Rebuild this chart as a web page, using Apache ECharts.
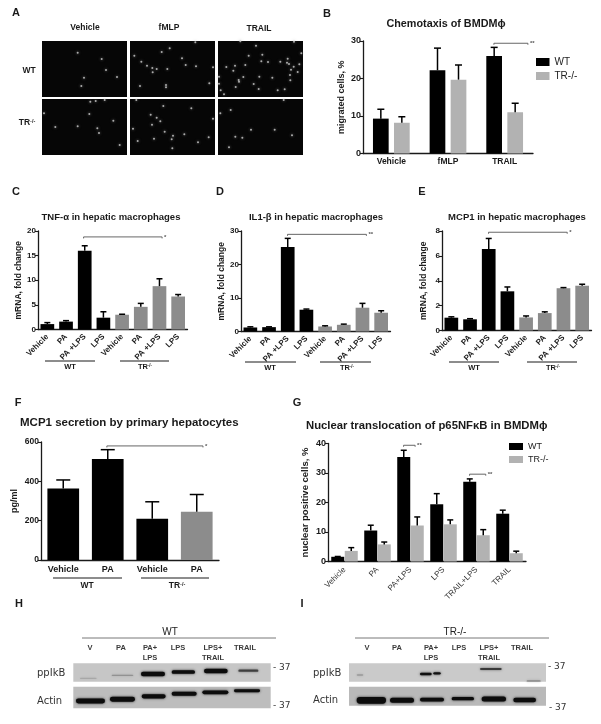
<!DOCTYPE html>
<html><head><meta charset="utf-8">
<style>html,body{margin:0;padding:0;background:#fff}#c{width:601px;height:724px}</style>
<script src="https://cdn.jsdelivr.net/npm/echarts@6/dist/echarts.min.js"></script>
</head><body><div id="c"></div>
<script>
// ---------- data ----------
const dotsWTVehicle=[[107,35],[179,54],[192,87],[126,110],[225,108],[118,135]];
const dotsWTfMLP=[[196,4],[119,22],[95,33],[13,44],[156,52],[34,62],[51,74],[67,81],[80,84],[68,94],[112,84],[167,72],[198,76],[249,79],[30,135],[108,132],[108,139],[238,127]];
const dotsWTTRAIL=[[67,1],[228,2],[114,14],[250,37],[92,44],[133,41],[209,53],[130,61],[150,63],[187,62],[207,65],[227,77],[244,70],[25,78],[51,74],[82,72],[46,89],[219,86],[239,93],[213,69],[3,107],[76,108],[62,117],[63,122],[124,107],[163,110],[216,102],[217,118],[107,129],[3,128],[53,138],[122,144],[8,148],[18,160],[179,148],[200,145]];
const dotsTRVehicle=[[142,45],[40,84],[107,82],[166,88],[171,102],[214,65],[233,138],[188,3],[145,8],[6,43],[161,6]];
const dotsTRfMLP=[[100,21],[184,28],[62,47],[80,56],[91,67],[66,77],[9,89],[104,98],[72,119],[23,126],[129,110],[163,106],[125,121],[236,115],[204,130],[127,148],[249,59],[19,3]];
const dotsTRTRAIL=[[38,33],[7,43],[99,92],[170,92],[222,109],[52,113],[73,116],[33,145],[197,3]];

const catB=['Vehicle','fMLP','TRAIL'];
const wtB=[9.3,22.2,26];
const wtBTop=[11.8,28.1,28.3];
const koB=[8.2,19.7,11];
const koBTop=[9.8,23.6,13.4];

const catMac=['Vehicle','PA','PA +LPS','LPS','Vehicle','PA','PA +LPS','LPS'];
const tnf=[1.1,1.6,16,2.4,3,4.6,8.8,6.7];
const tnfTop=[1.4,1.8,17,3.6,3.1,5.3,10.3,7.1];
const il1=[1.2,1.3,25.2,6.5,1.5,2,7.1,5.6];
const il1Top=[1.4,1.4,27.8,6.7,1.7,2.2,8.4,6.2];
const mcp=[1.03,0.9,6.55,3.15,1.05,1.4,3.4,3.6];
const mcpTop=[1.1,0.95,7.4,3.5,1.17,1.5,3.45,3.72];

const catF=['Vehicle','PA','Vehicle','PA'];
const secF=[363,514,210,245];
const secFTop=[407,561,296,333];

const catG=['Vehicle','PA','PA+LPS','LPS','TRAIL+LPS','TRAIL'];
const wtG=[1.6,10.5,35.4,19.4,27,16.2];
const wtGTop=[1.7,12.3,37.7,23,28,17.4];
const koG=[3.6,5.8,12.2,12.6,8.9,2.8];
const koGTop=[4.7,6.6,15.1,14.1,10.8,3.5];

// blot bands: start, end, row, thickness, strength
const blotHTop=[[240,290,250,4,0.12],[335,400,241,4,0.22],[423,495,237,13,1],[515,585,231,11,1],[612,683,228,14,1],[715,775,227,7,0.6]];
const blotHAct=[[228,315,318,15,1],[330,405,313,15,1],[425,497,304,13,1],[515,590,296,12,1],[607,685,292,11,1],[702,780,287,9,1]];
const blotITop=[[170,190,240,6,0.15],[360,395,237,7,0.95],[400,422,235,7,0.95],[540,605,222,6,0.65],[680,722,258,3,0.4]];
const blotIAct=[[170,258,316,20,1],[270,342,316,15,1],[360,432,314,11,1],[455,522,311,10,1],[545,618,312,15,1],[640,708,315,14,1]];

// ---------- style ----------
const FF='"Liberation Sans",Arial,sans-serif';
const BLACK='#000', GREY='#8c8c8c', LIGHT='#b2b2b2', INK='#1a1a1a';
const macColors=[BLACK,BLACK,BLACK,BLACK,GREY,GREY,GREY,GREY];
const secColors=[BLACK,BLACK,BLACK,GREY];

const grid=[],xAxis=[],yAxis=[],series=[],graphic=[],title=[];

function txt(x,y,text,font,opt){
  graphic.push(Object.assign({type:'text',x,y,silent:true,style:Object.assign({text,font:font+' '+FF,fill:INK,align:'center',verticalAlign:'middle'},opt||{})}));
}
function line(x1,y1,x2,y2,stroke,w){
  graphic.push({type:'line',silent:true,shape:{x1,y1,x2,y2},style:{stroke:stroke||INK,lineWidth:w||1}});
}
function ttl(text,x,y,size,align){
  title.push({text,left:x,top:y,textAlign:align||'center',textVerticalAlign:'middle',padding:0,
    textStyle:{fontFamily:FF,fontWeight:'bold',fontSize:size,color:INK}});
}
function chart(o){
  const i=grid.length;
  grid.push({left:o.left,top:o.top,width:o.w,height:o.h,containLabel:false,show:false});
  xAxis.push({gridIndex:i,type:'category',data:o.cats,axisTick:{show:false},
    axisLine:{lineStyle:{color:INK,width:1.3}},
    axisLabel:{interval:0,rotate:o.rot||0,margin:o.xMargin||4,fontFamily:FF,fontSize:o.xSize||8,fontWeight:o.xWeight||'bold',color:o.xColor||INK}});
  yAxis.push({gridIndex:i,type:'value',min:0,max:o.max,interval:o.step,name:o.name,nameLocation:'middle',nameRotate:90,nameGap:o.nameGap,
    nameTextStyle:{fontFamily:FF,fontSize:o.nameSize||9,fontWeight:'bold',color:INK},
    splitLine:{show:false},axisTick:{show:true,length:3,lineStyle:{color:INK,width:1.1}},
    axisLine:{show:true,lineStyle:{color:INK,width:1.3}},
    axisLabel:{margin:2,fontFamily:FF,fontSize:o.ySize||8.5,fontWeight:'bold',color:INK}});
  return i;
}
function bars(i,name,values,colors,width,gap){
  const s={type:'bar',name,xAxisIndex:i,yAxisIndex:i,barWidth:width,barGap:gap,animation:false,
    data:values.map((v,k)=>colors?{value:v,itemStyle:{color:colors[k]}}:v)};
  if(!colors) s.itemStyle={color:name==='WT'?BLACK:LIGHT};
  series.push(s);
}
function errs(i,values,tops,offset,cap){
  series.push({type:'custom',name:'error',xAxisIndex:i,yAxisIndex:i,coordinateSystem:'cartesian2d',z:5,animation:false,silent:true,clip:false,
    data:values.map((v,k)=>[k,v,tops[k]]),
    encode:{x:0,y:[1,2]},
    renderItem(p,api){
      const a=api.coord([api.value(0),api.value(1)]),b=api.coord([api.value(0),api.value(2)]);
      const x=a[0]+offset;
      const st={stroke:'#000',lineWidth:1.5,fill:null};
      return {type:'group',children:[
        {type:'line',shape:{x1:x,y1:a[1],x2:x,y2:b[1]},style:st},
        {type:'line',shape:{x1:x-cap,y1:b[1],x2:x+cap,y2:b[1]},style:st}]};
    }});
}
function brackets(i,list,color,w){
  series.push({type:'custom',name:'significance',xAxisIndex:i,yAxisIndex:i,coordinateSystem:'cartesian2d',z:6,animation:false,silent:true,clip:false,
    data:list.map(b=>[0,b[2]]),
    encode:{x:0,y:1},
    renderItem(p,api){
      const b=list[p.dataIndex];
      const o=api.coord([0,b[2]]),band=api.size([1,0])[0];
      const x1=o[0]+b[0]*band,x2=o[0]+b[1]*band,y=o[1];
      const st={stroke:color||'#555',lineWidth:w||0.9,fill:null};
      return {type:'group',children:[
        {type:'polyline',shape:{points:[[x1,y+1.5],[x1,y],[x2,y],[x2,y+1.5]]},style:st},
        {type:'text',x:x2+2,y:y,style:{text:b[3],font:'bold 6px '+FF,fill:'#555',align:'left',verticalAlign:'middle'}}]};
    }});
}

// ---------- panel A ----------
function micro(left,top,dots){
  const i=grid.length;
  grid.push({left,top,width:85,height:56,show:true,backgroundColor:'#060606',borderWidth:0});
  xAxis.push({gridIndex:i,type:'value',min:0,max:255,show:false});
  yAxis.push({gridIndex:i,type:'value',min:0,max:168,inverse:true,show:false});
  series.push({type:'scatter',name:'cells',xAxisIndex:i,yAxisIndex:i,data:dots,symbolSize:2,animation:false,silent:true,
    itemStyle:{color:'#cfcfcf',shadowBlur:3,shadowColor:'#999'}});
}
micro(42,41,dotsWTVehicle);micro(130,41,dotsWTfMLP);micro(218,41,dotsWTTRAIL);
micro(42,99,dotsTRVehicle);micro(130,99,dotsTRfMLP);micro(218,99,dotsTRTRAIL);
txt(85,28,'Vehicle','bold 8.5px');txt(169,28,'fMLP','bold 8.5px');txt(259,29,'TRAIL','bold 8.5px');
txt(29,71,'WT','bold 8.5px');
function trLabel(x,y,size,bold){
  const w=bold?'bold ':'';
  graphic.push({type:'text',x,y,silent:true,style:{text:'{a|TR}{b|-/-}',align:'center',verticalAlign:'middle',
    rich:{a:{font:w+size+'px '+FF,fill:INK},b:{font:w+(size-3)+'px '+FF,fill:INK,verticalAlign:'top',padding:[0,0,3,0]}}}});
}
trLabel(27,123,8.5,true);

// ---------- panel letters ----------
[['A',16,13],['B',327,14],['C',16,192],['D',220,192],['E',422,192],['F',18,403],['G',297,403],['H',19,604],['I',302,604]]
  .forEach(l=>txt(l[1],l[2],l[0],'bold 11px'));

// ---------- panel B ----------
let g=chart({left:363,top:41,w:170,h:112.5,cats:catB,max:30,step:10,name:'migrated cells, %',nameGap:17,xSize:8.5,ySize:9});
bars(g,'WT',wtB,null,15.7,'34%');bars(g,'TR-/-',koB,null,15.7,'34%');
errs(g,wtB,wtBTop,-10.5,3.5);errs(g,koB,koBTop,10.5,3.5);
brackets(g,[[1.81,2.41,29.4,'**']]);
ttl('Chemotaxis of BMDM\u03d5',446,24,10.8);

// ---------- panels C, D, E ----------
function mac(left,top,h,max,step,vals,tops,br,tx,gap,gy,ly,wtX,wt1,wt2,trX,tr1,tr2,t){
  const g=chart({left,top,w:149.5,h,cats:catMac,max,step,name:'mRNA, fold change',nameGap:gap,rot:45,xSize:8,ySize:8,nameSize:8.5,xMargin:6});
  bars(g,t,vals,macColors,13.7,'0%');
  errs(g,vals,tops,0,3);
  brackets(g,[br]);
  ttl(t,tx,217,9.5);
  line(wt1,gy,wt2,gy);line(tr1,gy,tr2,gy);
  txt(wtX,ly,'WT','bold 7.5px');trLabel(trX,ly,7.5,true);
}
mac(38,231,98.5,20,5,tnf,tnfTop,[1.94,6.14,18.8,'*'],111,14,361,367,70,45,95,145,120,169,'TNF-\u03b1 in hepatic macrophages');
mac(241,231,100.5,30,10,il1,il1Top,[1.99,6.21,29,'**'],316,14,362,368,270,245,296,347,320,371,'IL1-\u03b2 in hepatic macrophages');
mac(442,231,99.5,8,2,mcp,mcpTop,[1.99,6.2,7.9,'*'],517,14,362,368,474,449,499,553,527,577,'MCP1 in hepatic macrophages');

// ---------- panel F ----------
g=chart({left:41,top:442,w:178,h:118,cats:catF,max:600,step:200,name:'pg/ml',nameGap:22,ySize:8.5,xSize:9,nameSize:9,xMargin:5});
bars(g,'MCP1 secretion',secF,secColors,31.7,'0%');
errs(g,secF,secFTop,0,7);
brackets(g,[[0.98,3.14,580,'*']]);
ttl('MCP1 secretion by primary hepatocytes',20,423,11.5,'left');
line(53,578,122,578);line(141,578,209,578);
txt(87,586,'WT','bold 8.5px');trLabel(177,586,8.5,true);

// ---------- panel G ----------
g=chart({left:328,top:443.5,w:198,h:118,cats:catG,max:40,step:10,name:'nuclear positive cells, %',nameGap:18,rot:45,xSize:8,xWeight:'normal',xColor:'#333',nameSize:9.5,ySize:9,xMargin:7});
bars(g,'WT',wtG,null,13,'4%');bars(g,'TR-/-',koG,null,13,'4%');
errs(g,wtG,wtGTop,-6.75,3);errs(g,koG,koGTop,6.75,3);
brackets(g,[[1.79,2.14,39.4,'**'],[3.79,4.28,29.6,'**']]);
ttl('Nuclear translocation of p65NF\u03baB in BMDM\u03d5',306,426,11.3,'left');

// ---------- blots H, I ----------
function blot(left,top,w,h,x0,x1,y0,y1,bands,bg){
  const i=grid.length;
  grid.push({left,top,width:w,height:h,show:true,backgroundColor:bg,borderWidth:0});
  xAxis.push({gridIndex:i,type:'value',min:x0,max:x1,show:false});
  yAxis.push({gridIndex:i,type:'value',min:y0,max:y1,inverse:true,show:false});
  series.push({type:'custom',name:'band',xAxisIndex:i,yAxisIndex:i,coordinateSystem:'cartesian2d',animation:false,silent:true,
    data:bands,encode:{x:[0,1],y:2},
    renderItem(p,api){
      const a=api.coord([api.value(0),api.value(2)]),b=api.coord([api.value(1),api.value(2)]);
      const th=api.size([0,api.value(3)])[1],op=api.value(4);
      return {type:'rect',shape:{x:a[0],y:a[1]-th/2,width:b[0]-a[0],height:th,r:th/2},
        style:{fill:'#0c0c0c',opacity:op,shadowBlur:2.5,shadowColor:'rgba(0,0,0,0.8)'}};
    }});
}
blot(73.3,663.3,197.4,18.4,220,812,205,260,blotHTop,'#c6c6c6');
blot(73.3,686.7,197.4,21.6,220,812,275,340,blotHAct,'#bdbdbd');
blot(349,663.3,197,18.4,147,738,205,260,blotITop,'#cacaca');
blot(349,686.7,197,19,147,738,275,332,blotIAct,'#b9b9b9');

const BC='#3a3a3a';
function lanes(head,hx,l1,l2,labels,px,ay,m1,m2){
  txt(hx,632,head,'10px',{fill:'#222'});
  line(l1,638,l2,638,'#555',0.8);
  labels.forEach(l=>{txt(l[0],648,l[1],'bold 7.5px',{fill:BC});
    if(l[2])txt(l[0],657.5,l[2],'bold 7.5px',{fill:BC});});
  const F='10px "DejaVu Sans",sans-serif';
  txt(px,673,'ppIkB','10px',{align:'left',fill:'#333',font:F});
  txt(px,ay,'Actin','10px',{align:'left',fill:'#333',font:F});
  txt(m1[0],m1[1],'- 37','9px',{align:'left',fill:'#333',font:'9px "DejaVu Sans",sans-serif'});
  txt(m2[0],m2[1],'- 37','9px',{align:'left',fill:'#333',font:'9px "DejaVu Sans",sans-serif'});
}
lanes('WT',170,82,276,[[90,'V'],[121,'PA'],[150,'PA+','LPS'],[178,'LPS'],[213,'LPS+','TRAIL'],[245,'TRAIL']],37,701,[273,668],[273,706]);
lanes('TR-/-',455,355,549,[[367,'V'],[397,'PA'],[431,'PA+','LPS'],[459,'LPS'],[489,'LPS+','TRAIL'],[522,'TRAIL']],313,700,[548,667],[549,708]);

// ---------- chart ----------
const legendBase={selectedMode:false,orient:'vertical',icon:'rect',data:['WT','TR-/-'],padding:0};
const option={animation:false,backgroundColor:'#fff',title,grid,xAxis,yAxis,series,
  legend:[
    Object.assign({},legendBase,{left:536,top:57,itemWidth:13.5,itemHeight:8,itemGap:4,textStyle:{fontFamily:FF,fontSize:10,color:'#222'}}),
    Object.assign({},legendBase,{left:509,top:442,itemWidth:14,itemHeight:7,itemGap:4,textStyle:{fontFamily:FF,fontSize:9,color:'#222'}})
  ],
  graphic:{elements:graphic}};
echarts.init(document.getElementById('c'),null,{renderer:'canvas'}).setOption(option);
</script></body></html>
